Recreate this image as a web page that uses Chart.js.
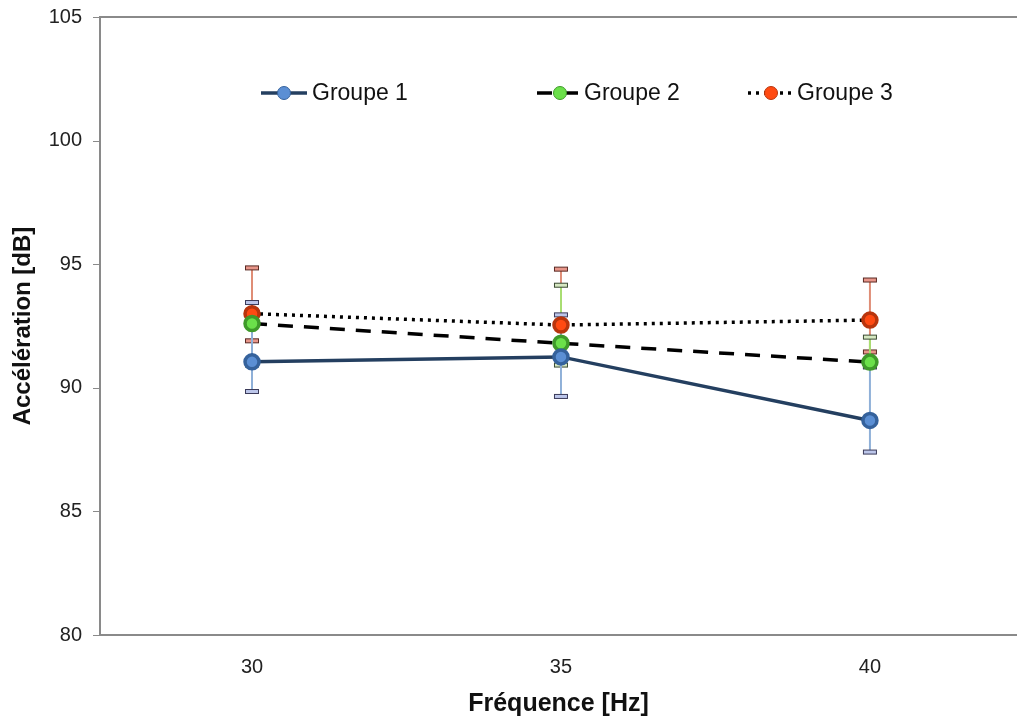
<!DOCTYPE html>
<html>
<head>
<meta charset="utf-8">
<script src="https://cdn.jsdelivr.net/npm/chart.js@4.4.1/dist/chart.umd.min.js"></script>
<style>
  html, body { margin: 0; padding: 0; background: #fff; }
  #wrap { width: 1017px; height: 722px; }
</style>
</head>
<body>
<div id="wrap"><canvas id="chart" width="1017" height="722"></canvas></div>
<script>
// données
const freqs = [30, 35, 40];
const yTicks = [80, 85, 90, 95, 100, 105];
const seriesNames = ['Groupe 1', 'Groupe 2', 'Groupe 3'];

const g1 = [91.05, 91.25, 88.68];
const g2 = [92.6, 91.8, 91.04];
const g3 = [93.0, 92.54, 92.74];

// barres d'erreur (haut / bas)
const g1Hi = [93.45, 92.95, 90.85];
const g1Lo = [89.85, 89.65, 87.4];
const g2Hi = [93.1, 94.15, 92.05];
const g2Lo = [90.92, 90.92, 90.85];
const g3Hi = [94.85, 94.8, 94.36];
const g3Lo = [91.9, 91.3, 91.45];

const FONT = "'Liberation Sans', Arial, sans-serif";
const AXIS_GREY = '#8a8a8a';

function pts(vals) {
  return vals.map((v, i) => ({ x: freqs[i], y: v }));
}

/* barres d'erreur dessinées avant les courbes */
const errorBars = {
  id: 'errorBars',
  beforeDatasetsDraw(chart) {
    const ctx = chart.ctx;
    const xs = chart.scales.x, ys = chart.scales.y;
    const sets = chart.data.datasets.slice().reverse();
    sets.forEach(ds => {
      ds.errHi.forEach((hi, i) => {
        const x = xs.getPixelForValue(freqs[i]);
        const yt = ys.getPixelForValue(hi);
        const yb = ys.getPixelForValue(ds.errLo[i]);
        ctx.save();
        ctx.strokeStyle = ds.errColor;
        ctx.lineWidth = 2;
        ctx.beginPath();
        ctx.moveTo(x, yt);
        ctx.lineTo(x, yb);
        ctx.stroke();
        [yt, yb].forEach(y => {
          ctx.fillStyle = ds.capFill;
          ctx.strokeStyle = ds.capEdge;
          ctx.lineWidth = 1;
          ctx.fillRect(x - 6.5, y - 2, 13, 4);
          ctx.strokeRect(x - 6.5, y - 2, 13, 4);
        });
        ctx.restore();
      });
    });
  }
};

/* cadre du haut, petites graduations de l'axe y, légende dans la zone */
const legendPos = [{ x: 261, text: 312 }, { x: 537, text: 584 }, { x: 748, text: 797 }];
const frameAndLegend = {
  id: 'frameAndLegend',
  afterDraw(chart) {
    const ctx = chart.ctx;
    const a = chart.chartArea;
    const ys = chart.scales.y;
    ctx.save();
    ctx.strokeStyle = AXIS_GREY;
    ctx.lineWidth = 2;
    ctx.beginPath();
    ctx.moveTo(a.left, a.top);
    ctx.lineTo(a.right, a.top);
    ctx.stroke();

    ctx.lineWidth = 1;
    yTicks.forEach(v => {
      const y = Math.round(ys.getPixelForValue(v)) + 0.5;
      ctx.beginPath();
      ctx.moveTo(a.left - 7, y);
      ctx.lineTo(a.left, y);
      ctx.stroke();
    });

    const ly = 93;
    chart.data.datasets.forEach((ds, i) => {
      const p = legendPos[i];
      ctx.strokeStyle = ds.borderColor;
      ctx.lineWidth = ds.borderWidth;
      ctx.setLineDash(ds.borderDash || []);
      ctx.beginPath();
      ctx.moveTo(p.x, ly);
      ctx.lineTo(p.x + 46, ly);
      ctx.stroke();
      ctx.setLineDash([]);
      ctx.fillStyle = ds.pointBackgroundColor;
      ctx.strokeStyle = ds.pointBorderColor;
      ctx.lineWidth = 1;
      ctx.beginPath();
      ctx.arc(p.x + 23, ly, 6.5, 0, Math.PI * 2);
      ctx.fill();
      ctx.stroke();
      ctx.fillStyle = '#111';
      ctx.font = '23px ' + FONT;
      ctx.textBaseline = 'middle';
      ctx.textAlign = 'left';
      ctx.fillText(ds.label, p.text, ly + 1);
    });
    ctx.restore();
  }
};

const datasets = [
  {
    label: seriesNames[0],
    data: pts(g1),
    borderColor: '#243f60',
    borderWidth: 3.5,
    pointBackgroundColor: '#5b8fd4',
    pointBorderColor: '#35629c',
    errHi: g1Hi, errLo: g1Lo,
    errColor: '#8fb0d8', capFill: '#bcc6ea', capEdge: '#3b3b5a'
  },
  {
    label: seriesNames[1],
    data: pts(g2),
    borderColor: '#000',
    borderWidth: 3.5,
    borderDash: [15, 11],
    pointBackgroundColor: '#6be04a',
    pointBorderColor: '#3f9a2a',
    errHi: g2Hi, errLo: g2Lo,
    errColor: '#a8df72', capFill: '#d6e8c2', capEdge: '#3a4a32'
  },
  {
    label: seriesNames[2],
    data: pts(g3),
    borderColor: '#000',
    borderWidth: 3.5,
    borderDash: [3, 5],
    pointBackgroundColor: '#ff4a12',
    pointBorderColor: '#b8350d',
    errHi: g3Hi, errLo: g3Lo,
    errColor: '#df8d76', capFill: '#e8968a', capEdge: '#5a2a24'
  }
];

new Chart(document.getElementById('chart'), {
  type: 'line',
  data: { datasets: datasets },
  plugins: [errorBars, frameAndLegend],
  options: {
    responsive: false,
    animation: false,
    layout: { autoPadding: false, padding: { top: 17, right: 0, left: 0, bottom: 0 } },
    elements: {
      line: { tension: 0, fill: false },
      point: { radius: 7, borderWidth: 1, hoverRadius: 7 }
    },
    plugins: {
      legend: { display: false },
      tooltip: { enabled: false }
    },
    scales: {
      x: {
        type: 'linear',
        min: 27.54,
        max: 42.38,
        afterBuildTicks: s => { s.ticks = freqs.map(v => ({ value: v })); },
        afterFit: s => { s.height = 87; s.paddingRight = 0; s.paddingLeft = 0; },
        grid: { display: false, drawTicks: true, tickLength: 20 },
        border: { display: true, color: AXIS_GREY, width: 2 },
        ticks: {
          padding: 0,
          color: '#222',
          font: { family: FONT, size: 20 },
          callback: v => String(v)
        },
        title: {
          display: true,
          text: 'Fréquence [Hz]',
          color: '#111',
          font: { family: FONT, size: 25, weight: 'bold' },
          padding: { top: 3, bottom: 3 }
        }
      },
      y: {
        min: 80,
        max: 105,
        afterBuildTicks: s => { s.ticks = yTicks.map(v => ({ value: v })); },
        afterFit: s => { s.width = 100; s.paddingTop = 0; s.paddingBottom = 0; },
        grid: { display: false, drawTicks: true, tickLength: 13 },
        border: { display: true, color: AXIS_GREY, width: 2 },
        ticks: {
          padding: 5,
          color: '#222',
          font: { family: FONT, size: 20 }
        },
        title: {
          display: true,
          text: 'Accélération [dB]',
          color: '#111',
          font: { family: FONT, size: 24, weight: 'bold' },
          padding: { top: 9, bottom: 0 }
        }
      }
    }
  }
});
</script>
</body>
</html>
